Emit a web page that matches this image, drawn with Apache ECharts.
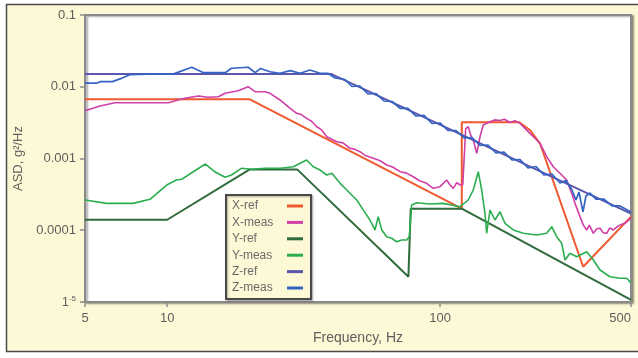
<!DOCTYPE html>
<html>
<head>
<meta charset="utf-8">
<script src="https://cdn.jsdelivr.net/npm/echarts@6/dist/echarts.min.js"></script>
<style>
  html, body { margin: 0; padding: 0; background: #ffffff; }
  #chart { width: 638px; height: 358px; }
</style>
</head>
<body>
<div id="chart"></div>
<script>
// Acceleration spectral density, reference profiles vs. measured response, per axis.
// Each point is [frequency in Hz, ASD in g^2/Hz].

const seriesNames = ['X-ref', 'X-meas', 'Y-ref', 'Y-meas', 'Z-ref', 'Z-meas'];

const xRef = [
  [5, 0.0067], [20, 0.0067], [120, 0.0002], [120, 0.0032], [195, 0.0032],
  [213, 0.0025], [232, 0.00163], [334, 0.000031], [500, 0.000155]
];

const xMeas = [
  [5, 0.00464], [5.67, 0.00539], [6.44, 0.00599], [10.1, 0.00599], [11.6, 0.0069],
  [13.0, 0.00743], [14.1, 0.00713], [15.4, 0.00727], [16.3, 0.0081], [18.2, 0.00881],
  [19.8, 0.01002], [21.0, 0.00853], [22.8, 0.00853], [23.8, 0.0081], [25.9, 0.00654],
  [28.2, 0.00501], [29.8, 0.00427], [31.0, 0.0041], [32.4, 0.00363], [33.8, 0.0033],
  [35.3, 0.00277], [36.8, 0.0025], [38.4, 0.00201], [41.8, 0.00171], [44.0, 0.00165],
  [46.7, 0.00139], [48.5, 0.00135], [50.8, 0.001244], [53.5, 0.00109], [56.9, 0.001006],
  [60.0, 0.00094], [63.7, 0.000811], [67.0, 0.00076], [71.3, 0.000655], [75.0, 0.00063],
  [79.7, 0.000557], [84.0, 0.00049], [89.2, 0.000451], [94.3, 0.000384], [99.8, 0.000405],
  [105.6, 0.000501], [108.5, 0.00043], [111.7, 0.000384], [115.0, 0.00046], [118.2, 0.000427],
  [121, 0.00043], [124, 0.0026], [126.7, 0.00277], [129.5, 0.0021], [132.2, 0.00181],
  [136.1, 0.00118], [139.9, 0.00201], [143.8, 0.00293], [152.2, 0.00326], [158, 0.00345],
  [165.6, 0.00339], [172, 0.00352], [180.2, 0.00317], [188, 0.00335], [196.1, 0.00309],
  [213.3, 0.00224], [232.1, 0.00163], [245.6, 0.00106], [259.6, 0.000768], [274.7, 0.000622],
  [290.7, 0.000501], [303.2, 0.000327], [311.8, 0.000237], [325.2, 0.000155], [334.4, 0.000118],
  [344.2, 0.0001008], [352, 0.000118], [363.9, 0.0000907], [375, 0.000105], [385, 0.0001065],
  [396, 0.000092], [407.4, 0.0000907], [418, 0.000108], [430.7, 0.0001008], [442, 0.00011],
  [455.7, 0.000118], [475, 0.000125], [500, 0.000148]
];

const yRef = [
  [5, 0.00014], [10, 0.00014], [20, 0.0007], [30, 0.0007], [76.5, 0.0000225],
  [78, 0.0002], [120, 0.0002], [500, 0.0000107]
];

const yMeas = [
  [5, 0.000264], [6.0, 0.000237], [7.5, 0.000237], [8.65, 0.00027], [9.96, 0.000427],
  [10.8, 0.000501], [11.3, 0.000513], [12.1, 0.000608], [13.8, 0.000838], [15.0, 0.000648],
  [16.3, 0.000547], [17.2, 0.000589], [18.7, 0.00073], [20.4, 0.000707], [22.8, 0.00073],
  [25.9, 0.00073], [29.0, 0.000768], [30.7, 0.000857], [32.4, 0.000953], [34.3, 0.000768],
  [36.3, 0.000691], [38.4, 0.000589], [40.1, 0.000622], [43.0, 0.000451], [45.5, 0.000364],
  [48.1, 0.000293], [49.5, 0.000264], [52.3, 0.000191], [55.3, 0.000139], [57.7, 0.000101],
  [59.3, 0.000155], [61.1, 0.000101], [63.7, 0.0000813], [66.4, 0.0000773], [69.3, 0.0000692],
  [72.3, 0.0000731], [75.4, 0.0000731], [77.1, 0.0000813], [78.6, 0.000225], [82.0, 0.000242],
  [91.8, 0.000232], [102.7, 0.000237], [118.2, 0.000213], [126.7, 0.000264], [132.2, 0.000364],
  [137.9, 0.000655], [141.9, 0.000364], [145.9, 0.000172], [148, 0.0000907], [152.2, 0.000191],
  [158.8, 0.000139], [165.6, 0.000181], [172.7, 0.000125], [185.3, 0.000101], [201.6, 0.0000907],
  [225.7, 0.0000859], [245.6, 0.0000907], [256.2, 0.000112], [267.2, 0.0000813], [278.7, 0.0000658],
  [286.6, 0.0000385], [298.9, 0.0000477], [316.2, 0.0000428], [344.2, 0.0000502], [363.9, 0.0000385],
  [385, 0.0000279], [418.8, 0.0000225], [455.7, 0.0000214], [482.1, 0.0000214], [500, 0.0000184]
];

const zRef = [
  [5, 0.015], [40, 0.015], [500, 0.00017]
];

const zMeas = [
  [5, 0.0112], [5.5, 0.0112], [5.7, 0.0118], [6.3, 0.0118], [6.8, 0.0131],
  [7.3, 0.0147], [8.5, 0.015], [10.5, 0.015], [12.3, 0.0187], [13.6, 0.0157],
  [16.3, 0.0157], [17.2, 0.0181], [19.8, 0.0187], [21, 0.0157], [22, 0.018],
  [23.8, 0.0162], [25.9, 0.0154], [28.2, 0.01675], [30.7, 0.0154], [33.3, 0.0171],
  [36.3, 0.0154], [38.8, 0.0154], [41.2, 0.01324], [44.8, 0.01262], [47.5, 0.01008],
  [50.8, 0.01024], [54.4, 0.00793], [58.2, 0.00805], [62.3, 0.00633], [66.6, 0.00623],
  [71.3, 0.00498], [76.2, 0.00498], [81.6, 0.00391], [87.2, 0.00398], [93.3, 0.003075],
  [99.8, 0.003125], [106.8, 0.002456], [114.3, 0.002456], [122.3, 0.001931], [130.8, 0.001963],
  [139.9, 0.001518], [149.7, 0.001542], [160.1, 0.001193], [171.3, 0.001232], [183.2, 0.000953],
  [196.1, 0.000968], [209.7, 0.000737], [224.4, 0.000773], [240, 0.000589], [256.7, 0.000608],
  [274.7, 0.000455], [289, 0.000494], [303.9, 0.000364], [314.4, 0.000264], [322.4, 0.000341],
  [333.5, 0.00018], [342, 0.0003], [353.7, 0.00033], [372.1, 0.000272], [398, 0.000272],
  [426, 0.000218], [455.7, 0.000218], [500, 0.00018]
];

const seriesData = [xRef, xMeas, yRef, yMeas, zRef, zMeas];
const seriesColors = ['#f05a30', '#cf3fa6', '#2f6b3c', '#2aae4e', '#5d56ae', '#3464c2'];
const seriesWidths = [2, 1.6, 2, 1.6, 2, 1.7];

// Decade labels on the ASD axis, from 1e-5 up to 0.1
const yTickLabels = ['1{s|-5}', '0.0001', '0.001', '0.01', '0.1'];
const xAxisTitle = 'Frequency, Hz';
const yAxisTitle = 'ASD, g²/Hz';

const chart = echarts.init(document.getElementById('chart'), null, { renderer: 'canvas' });

const fontFamily = '"Liberation Sans", Arial, Helvetica, sans-serif';
const greyText = '#5e5e5e';
const axisGrey = '#8a8a8a';

chart.setOption({
  animation: false,
  backgroundColor: '#ffffff',
  textStyle: { fontFamily: fontFamily },
  graphic: [
    {
      type: 'rect',
      z: -100,
      silent: true,
      shape: { x: 6.5, y: 4.5, width: 640, height: 347 },
      style: { fill: '#fdf8d6', stroke: '#4a4a4a', lineWidth: 1.5 }
    }
  ],
  grid: {
    left: 85, top: 15, right: 7, bottom: 56,
    show: true,
    backgroundColor: '#ffffff',
    borderColor: axisGrey,
    borderWidth: 2,
    shadowColor: 'rgba(0,0,0,0.35)',
    shadowBlur: 2,
    shadowOffsetX: 2,
    shadowOffsetY: 1
  },
  legend: {
    orient: 'vertical',
    left: 226, top: 195,
    align: 'right',
    padding: [4, 8, 4, 6],
    itemGap: 2.4,
    itemWidth: 16,
    itemHeight: 3,
    icon: 'rect',
    backgroundColor: '#fdf8d6',
    borderColor: '#4a4a4a',
    borderWidth: 2,
    shadowColor: 'rgba(0,0,0,0.3)',
    shadowBlur: 2,
    shadowOffsetX: 1,
    shadowOffsetY: 1,
    data: seriesNames,
    formatter: function (name) { return '{n|' + name + '}'; },
    textStyle: {
      color: '#6a6a6a',
      fontSize: 12,
      lineHeight: 14,
      height: 14,
      fontFamily: fontFamily,
      rich: {
        n: {
          width: 50, height: 14, lineHeight: 14, align: 'left',
          fontSize: 12, color: '#6a6a6a', fontFamily: fontFamily
        }
      }
    }
  },
  xAxis: {
    type: 'log',
    logBase: 10,
    min: 5,
    max: 500,
    name: xAxisTitle,
    nameLocation: 'middle',
    nameGap: 29,
    nameTextStyle: { color: greyText, fontSize: 14, fontFamily: fontFamily },
    axisLine: { show: true, lineStyle: { color: axisGrey, width: 2 } },
    axisTick: { show: true, length: 5, lineStyle: { color: axisGrey, width: 1.5 } },
    minorTick: { show: false },
    splitLine: { show: false },
    axisLabel: {
      color: greyText, fontSize: 13, margin: 10, alignMaxLabel: 'right',
      formatter: function (v) { return String(Math.round(v)); }
    }
  },
  yAxis: {
    type: 'log',
    logBase: 10,
    min: 0.00001,
    max: 0.1,
    name: yAxisTitle,
    nameLocation: 'middle',
    nameGap: 60,
    nameTextStyle: { color: greyText, fontSize: 13, fontFamily: fontFamily },
    axisLine: { show: true, lineStyle: { color: axisGrey, width: 2 } },
    axisTick: { show: true, length: 5, lineStyle: { color: axisGrey, width: 1.5 } },
    minorTick: { show: false },
    splitLine: { show: false },
    axisLabel: {
      color: greyText, fontSize: 13, margin: 9,
      formatter: function (v) {
        const k = Math.round(Math.log10(v)) + 5;
        return yTickLabels[k] !== undefined ? yTickLabels[k] : '';
      },
      rich: {
        s: { fontSize: 8, color: greyText, padding: [0, 0, 7, 0], fontFamily: fontFamily }
      }
    }
  },
  series: seriesNames.map(function (name, i) {
    return {
      name: name,
      type: 'line',
      data: seriesData[i],
      showSymbol: false,
      symbol: 'none',
      smooth: false,
      clip: true,
      color: seriesColors[i],
      lineStyle: { color: seriesColors[i], width: seriesWidths[i] },
      z: 2 + i
    };
  })
});
</script>
</body>
</html>
